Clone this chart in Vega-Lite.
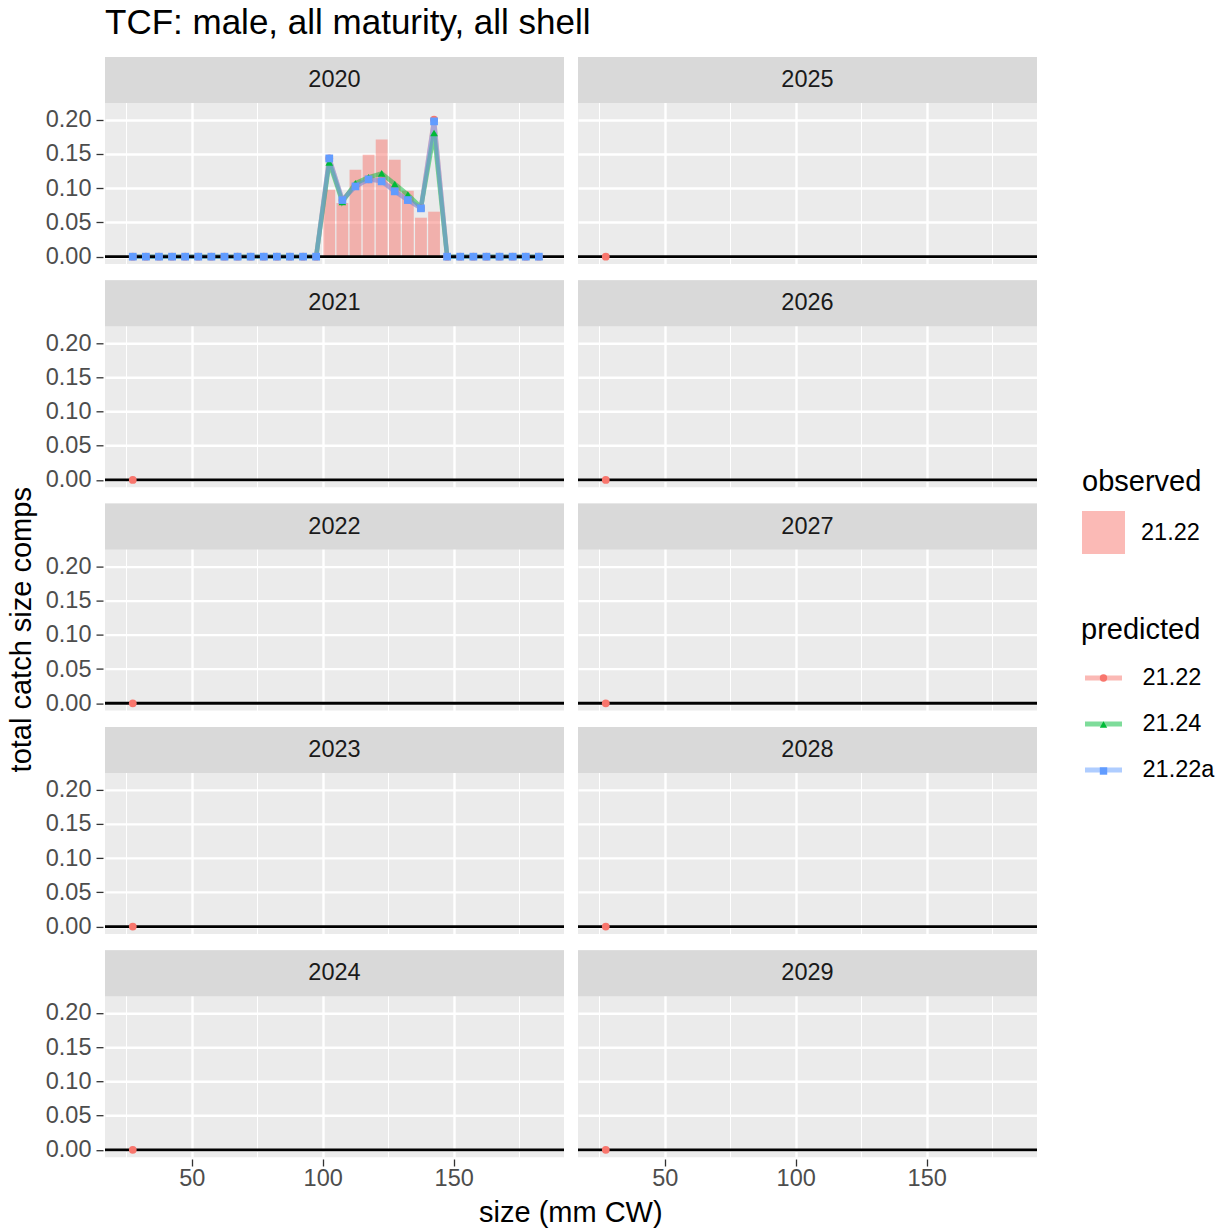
{
  "$schema": "https://vega.github.io/schema/vega-lite/v6.json",
  "padding": {"left": 8, "top": 6, "right": 0, "bottom": 0},
  "background": "white",
  "title": {"text": "TCF: male, all maturity, all shell", "anchor": "start", "frame": "group", "fontSize": 35, "fontWeight": "normal", "color": "black", "font": "Liberation Sans", "offset": 15},
  "datasets": {
    "d": [
      {"year":2020,"kind":"obs","model":"21.22","size":102.5,"value":0.0978},
      {"year":2020,"kind":"obs","model":"21.22","size":107.5,"value":0.0784},
      {"year":2020,"kind":"obs","model":"21.22","size":112.5,"value":0.127},
      {"year":2020,"kind":"obs","model":"21.22","size":117.5,"value":0.149},
      {"year":2020,"kind":"obs","model":"21.22","size":122.5,"value":0.171},
      {"year":2020,"kind":"obs","model":"21.22","size":127.5,"value":0.1416},
      {"year":2020,"kind":"obs","model":"21.22","size":132.5,"value":0.0964},
      {"year":2020,"kind":"obs","model":"21.22","size":137.5,"value":0.0569},
      {"year":2020,"kind":"obs","model":"21.22","size":142.5,"value":0.0657},

      {"year":2020,"kind":"pred","model":"21.22","size":27.5,"value":0},
      {"year":2020,"kind":"pred","model":"21.22","size":32.5,"value":0},
      {"year":2020,"kind":"pred","model":"21.22","size":37.5,"value":0},
      {"year":2020,"kind":"pred","model":"21.22","size":42.5,"value":0},
      {"year":2020,"kind":"pred","model":"21.22","size":47.5,"value":0},
      {"year":2020,"kind":"pred","model":"21.22","size":52.5,"value":0},
      {"year":2020,"kind":"pred","model":"21.22","size":57.5,"value":0},
      {"year":2020,"kind":"pred","model":"21.22","size":62.5,"value":0},
      {"year":2020,"kind":"pred","model":"21.22","size":67.5,"value":0},
      {"year":2020,"kind":"pred","model":"21.22","size":72.5,"value":0},
      {"year":2020,"kind":"pred","model":"21.22","size":77.5,"value":0},
      {"year":2020,"kind":"pred","model":"21.22","size":82.5,"value":0},
      {"year":2020,"kind":"pred","model":"21.22","size":87.5,"value":0},
      {"year":2020,"kind":"pred","model":"21.22","size":92.5,"value":0},
      {"year":2020,"kind":"pred","model":"21.22","size":97.5,"value":0},
      {"year":2020,"kind":"pred","model":"21.22","size":102.5,"value":0.1435},
      {"year":2020,"kind":"pred","model":"21.22","size":107.5,"value":0.083},
      {"year":2020,"kind":"pred","model":"21.22","size":112.5,"value":0.103},
      {"year":2020,"kind":"pred","model":"21.22","size":117.5,"value":0.113},
      {"year":2020,"kind":"pred","model":"21.22","size":122.5,"value":0.111},
      {"year":2020,"kind":"pred","model":"21.22","size":127.5,"value":0.096},
      {"year":2020,"kind":"pred","model":"21.22","size":132.5,"value":0.083},
      {"year":2020,"kind":"pred","model":"21.22","size":137.5,"value":0.071},
      {"year":2020,"kind":"pred","model":"21.22","size":142.5,"value":0.2},
      {"year":2020,"kind":"pred","model":"21.22","size":147.5,"value":0},
      {"year":2020,"kind":"pred","model":"21.22","size":152.5,"value":0},
      {"year":2020,"kind":"pred","model":"21.22","size":157.5,"value":0},
      {"year":2020,"kind":"pred","model":"21.22","size":162.5,"value":0},
      {"year":2020,"kind":"pred","model":"21.22","size":167.5,"value":0},
      {"year":2020,"kind":"pred","model":"21.22","size":172.5,"value":0},
      {"year":2020,"kind":"pred","model":"21.22","size":177.5,"value":0},
      {"year":2020,"kind":"pred","model":"21.22","size":182.5,"value":0},

      {"year":2020,"kind":"pred","model":"21.24","size":27.5,"value":0},
      {"year":2020,"kind":"pred","model":"21.24","size":32.5,"value":0},
      {"year":2020,"kind":"pred","model":"21.24","size":37.5,"value":0},
      {"year":2020,"kind":"pred","model":"21.24","size":42.5,"value":0},
      {"year":2020,"kind":"pred","model":"21.24","size":47.5,"value":0},
      {"year":2020,"kind":"pred","model":"21.24","size":52.5,"value":0},
      {"year":2020,"kind":"pred","model":"21.24","size":57.5,"value":0},
      {"year":2020,"kind":"pred","model":"21.24","size":62.5,"value":0},
      {"year":2020,"kind":"pred","model":"21.24","size":67.5,"value":0},
      {"year":2020,"kind":"pred","model":"21.24","size":72.5,"value":0},
      {"year":2020,"kind":"pred","model":"21.24","size":77.5,"value":0},
      {"year":2020,"kind":"pred","model":"21.24","size":82.5,"value":0},
      {"year":2020,"kind":"pred","model":"21.24","size":87.5,"value":0},
      {"year":2020,"kind":"pred","model":"21.24","size":92.5,"value":0},
      {"year":2020,"kind":"pred","model":"21.24","size":97.5,"value":0},
      {"year":2020,"kind":"pred","model":"21.24","size":102.5,"value":0.1377},
      {"year":2020,"kind":"pred","model":"21.24","size":107.5,"value":0.08},
      {"year":2020,"kind":"pred","model":"21.24","size":112.5,"value":0.107},
      {"year":2020,"kind":"pred","model":"21.24","size":117.5,"value":0.116},
      {"year":2020,"kind":"pred","model":"21.24","size":122.5,"value":0.1216},
      {"year":2020,"kind":"pred","model":"21.24","size":127.5,"value":0.106},
      {"year":2020,"kind":"pred","model":"21.24","size":132.5,"value":0.0905},
      {"year":2020,"kind":"pred","model":"21.24","size":137.5,"value":0.072},
      {"year":2020,"kind":"pred","model":"21.24","size":142.5,"value":0.1806},
      {"year":2020,"kind":"pred","model":"21.24","size":147.5,"value":0},
      {"year":2020,"kind":"pred","model":"21.24","size":152.5,"value":0},
      {"year":2020,"kind":"pred","model":"21.24","size":157.5,"value":0},
      {"year":2020,"kind":"pred","model":"21.24","size":162.5,"value":0},
      {"year":2020,"kind":"pred","model":"21.24","size":167.5,"value":0},
      {"year":2020,"kind":"pred","model":"21.24","size":172.5,"value":0},
      {"year":2020,"kind":"pred","model":"21.24","size":177.5,"value":0},
      {"year":2020,"kind":"pred","model":"21.24","size":182.5,"value":0},

      {"year":2020,"kind":"pred","model":"21.22a","size":27.5,"value":0},
      {"year":2020,"kind":"pred","model":"21.22a","size":32.5,"value":0},
      {"year":2020,"kind":"pred","model":"21.22a","size":37.5,"value":0},
      {"year":2020,"kind":"pred","model":"21.22a","size":42.5,"value":0},
      {"year":2020,"kind":"pred","model":"21.22a","size":47.5,"value":0},
      {"year":2020,"kind":"pred","model":"21.22a","size":52.5,"value":0},
      {"year":2020,"kind":"pred","model":"21.22a","size":57.5,"value":0},
      {"year":2020,"kind":"pred","model":"21.22a","size":62.5,"value":0},
      {"year":2020,"kind":"pred","model":"21.22a","size":67.5,"value":0},
      {"year":2020,"kind":"pred","model":"21.22a","size":72.5,"value":0},
      {"year":2020,"kind":"pred","model":"21.22a","size":77.5,"value":0},
      {"year":2020,"kind":"pred","model":"21.22a","size":82.5,"value":0},
      {"year":2020,"kind":"pred","model":"21.22a","size":87.5,"value":0},
      {"year":2020,"kind":"pred","model":"21.22a","size":92.5,"value":0},
      {"year":2020,"kind":"pred","model":"21.22a","size":97.5,"value":0},
      {"year":2020,"kind":"pred","model":"21.22a","size":102.5,"value":0.1435},
      {"year":2020,"kind":"pred","model":"21.22a","size":107.5,"value":0.0827},
      {"year":2020,"kind":"pred","model":"21.22a","size":112.5,"value":0.1026},
      {"year":2020,"kind":"pred","model":"21.22a","size":117.5,"value":0.1129},
      {"year":2020,"kind":"pred","model":"21.22a","size":122.5,"value":0.11},
      {"year":2020,"kind":"pred","model":"21.22a","size":127.5,"value":0.0954},
      {"year":2020,"kind":"pred","model":"21.22a","size":132.5,"value":0.0827},
      {"year":2020,"kind":"pred","model":"21.22a","size":137.5,"value":0.0706},
      {"year":2020,"kind":"pred","model":"21.22a","size":142.5,"value":0.1976},
      {"year":2020,"kind":"pred","model":"21.22a","size":147.5,"value":0},
      {"year":2020,"kind":"pred","model":"21.22a","size":152.5,"value":0},
      {"year":2020,"kind":"pred","model":"21.22a","size":157.5,"value":0},
      {"year":2020,"kind":"pred","model":"21.22a","size":162.5,"value":0},
      {"year":2020,"kind":"pred","model":"21.22a","size":167.5,"value":0},
      {"year":2020,"kind":"pred","model":"21.22a","size":172.5,"value":0},
      {"year":2020,"kind":"pred","model":"21.22a","size":177.5,"value":0},
      {"year":2020,"kind":"pred","model":"21.22a","size":182.5,"value":0},

      {"year":2021,"kind":"pred","model":"21.22","size":27.5,"value":0},
      {"year":2022,"kind":"pred","model":"21.22","size":27.5,"value":0},
      {"year":2023,"kind":"pred","model":"21.22","size":27.5,"value":0},
      {"year":2024,"kind":"pred","model":"21.22","size":27.5,"value":0},
      {"year":2025,"kind":"pred","model":"21.22","size":27.5,"value":0},
      {"year":2026,"kind":"pred","model":"21.22","size":27.5,"value":0},
      {"year":2027,"kind":"pred","model":"21.22","size":27.5,"value":0},
      {"year":2028,"kind":"pred","model":"21.22","size":27.5,"value":0},
      {"year":2029,"kind":"pred","model":"21.22","size":27.5,"value":0}
    ]
  },
  "vconcat": [
    {
      "title": {"text": "total catch size comps", "orient": "left", "anchor": "middle", "fontSize": 29, "fontWeight": "normal", "color": "black", "font": "Liberation Sans", "offset": 8, "dx": 12},
      "hconcat": [
        {
          "title": {"text": "size (mm CW)", "orient": "bottom", "anchor": "middle", "fontSize": 29, "fontWeight": "normal", "color": "black", "font": "Liberation Sans", "offset": 9, "dx": 29},
          "data": {"name": "d"},
          "facet": {"field": "year", "type": "ordinal", "sort": [2020, 2025, 2021, 2026, 2022, 2027, 2023, 2028, 2024, 2029], "header": {"labels": false, "title": null, "labelExpr": "''", "labelFontSize": 1, "labelPadding": 0, "labelColor": "transparent"}},
          "columns": 2,
          "spacing": {"row": 13.3, "column": 10},
          "spec": {
            "width": 459,
            "height": 207,
            "layer": [
              {
                "transform": [{"aggregate": [{"op": "count", "as": "n"}], "groupby": ["year"]}],
                "mark": {"type": "rect", "color": "#D9D9D9"},
                "encoding": {
                  "x": {"value": 0},
                  "x2": {"value": "width"},
                  "y": {"datum": 0.2244, "axis": {"title": null, "grid": true}},
                  "y2": {"value": 0}
                }
              },
              {
                "transform": [{"aggregate": [{"op": "count", "as": "n"}], "groupby": ["year"]}],
                "mark": {"type": "text", "fontSize": 23.5, "color": "#1A1A1A", "baseline": "middle", "align": "center", "font": "Liberation Sans"},
                "encoding": {
                  "text": {"field": "year", "type": "nominal"},
                  "y": {"datum": 0.258, "axis": {"title": null, "grid": true}}
                }
              },
              {
                "transform": [{"filter": "datum.kind === 'obs'"}],
                "mark": {"type": "bar", "orient": "vertical", "size": 11.8, "opacity": 0.5},
                "encoding": {
                  "x": {
                    "field": "size", "type": "quantitative",
                    "scale": {"domain": [16.9, 192.1], "nice": false, "zero": false, "padding": 0},
                    "axis": {
                      "title": null,
                      "grid": true,
                      "labelPadding": 0,
                      "values": [25, 50, 75, 100, 125, 150, 175],
                      "labelExpr": "datum.value % 50 === 0 ? datum.label : ''",
                      "tickOpacity": {"condition": {"test": "datum.value % 50 === 0", "value": 1}, "value": 0},
                      "gridWidth": {"condition": {"test": "datum.value % 50 === 0", "value": 2.4}, "value": 1.1}
                    }
                  },
                  "y": {
                    "field": "value", "type": "quantitative",
                    "scale": {"domain": [-0.0107, 0.2916], "nice": false, "zero": false, "padding": 0},
                    "axis": {
                      "title": null,
                      "grid": true,
                      "values": [0, 0.025, 0.05, 0.075, 0.1, 0.125, 0.15, 0.175, 0.2],
                      "format": ".2f",
                      "labelExpr": "abs(datum.value*20 - round(datum.value*20)) < 0.000001 ? datum.label : ''",
                      "tickOpacity": {"condition": {"test": "abs(datum.value*20 - round(datum.value*20)) < 0.000001", "value": 1}, "value": 0},
                      "gridWidth": {"condition": {"test": "abs(datum.value*20 - round(datum.value*20)) < 0.000001", "value": 2.4}, "value": 1.1}
                    }
                  },
                  "y2": {"datum": 0},
                  "fill": {
                    "field": "model", "type": "nominal",
                    "scale": {"domain": ["21.22"], "range": ["#F8766D"]},
                    "legend": {"title": "observed", "orient": "none", "legendX": 977, "legendY": 411, "symbolType": "square", "symbolSize": 1849, "symbolOpacity": 0.5, "symbolStrokeWidth": 0, "labelOffset": 16, "titlePadding": 14}
                  }
                }
              },
              {
                "transform": [{"filter": "datum.kind === 'pred'"}],
                "mark": {"type": "line", "strokeWidth": 4.5, "opacity": 0.5},
                "encoding": {
                  "x": {"field": "size", "type": "quantitative"},
                  "y": {"field": "value", "type": "quantitative"},
                  "stroke": {
                    "field": "model", "type": "nominal",
                    "sort": ["21.22", "21.24", "21.22a"],
                    "scale": {"range": ["#F8766D", "#00BA38", "#619CFF"]},
                    "legend": {"title": "predicted", "orient": "none", "legendX": 976, "legendY": 559, "symbolType": "stroke", "symbolSize": 1369, "symbolStrokeWidth": 5, "symbolOpacity": 0.5, "symbolOffset": 1.5, "labelOffset": 18, "rowPadding": 13, "titlePadding": 12}
                  }
                }
              },
              {
                "transform": [{"aggregate": [{"op": "count", "as": "n"}], "groupby": ["year"]}],
                "mark": {"type": "rule", "color": "black", "strokeWidth": 2.8},
                "encoding": {
                  "y": {"datum": 0, "axis": {"title": null, "grid": true}}
                }
              },
              {
                "transform": [{"filter": "datum.kind === 'pred'"}],
                "mark": {"type": "point", "filled": true, "size": 60, "opacity": 1},
                "encoding": {
                  "x": {"field": "size", "type": "quantitative"},
                  "y": {"field": "value", "type": "quantitative"},
                  "color": {
                    "field": "model", "type": "nominal",
                    "scale": {"domain": ["21.22", "21.24", "21.22a"], "range": ["#F8766D", "#00BA38", "#619CFF"]},
                    "legend": {"title": " ", "labelExpr": "''", "orient": "none", "legendX": 976, "legendY": 568.25, "symbolSize": 55, "symbolStrokeWidth": 0, "symbolOpacity": 1, "symbolOffset": 10.75, "rowPadding": 21.5, "titlePadding": 12}
                  },
                  "shape": {
                    "field": "model", "type": "nominal",
                    "scale": {"domain": ["21.22", "21.24", "21.22a"], "range": ["circle", "triangle-up", "square"]},
                    "legend": {"title": " ", "labelExpr": "''", "orient": "none", "legendX": 976, "legendY": 568.25, "symbolSize": 55, "symbolStrokeWidth": 0, "symbolOpacity": 1, "symbolOffset": 10.75, "rowPadding": 21.5, "titlePadding": 12}
                  }
                }
              }
            ]
          }
        }
      ]
    }
  ],
  "config": {
    "font": "Liberation Sans",
    "view": {"fill": "#EBEBEB", "stroke": null},
    "axis": {"domain": false, "labelFontSize": 23.5, "labelColor": "#4D4D4D", "labelFont": "Liberation Sans", "tickColor": "#333333", "tickSize": 7, "tickWidth": 1.3, "gridColor": "#FFFFFF", "labelPadding": 3},
    "axisY": {"labelPadding": 5},
    "legend": {"titleFontSize": 29, "titleFontWeight": "normal", "titleColor": "black", "titleFont": "Liberation Sans", "labelFontSize": 23.5, "labelColor": "black", "labelFont": "Liberation Sans", "padding": 0},
    "header": {"labels": false, "title": null, "labelExpr": "''", "labelFontSize": 1, "labelPadding": 0},
    "headerFacet": {"labels": false, "title": null, "labelExpr": "''", "labelFontSize": 1, "labelPadding": 0},
    "concat": {"spacing": 0}
  }
}
